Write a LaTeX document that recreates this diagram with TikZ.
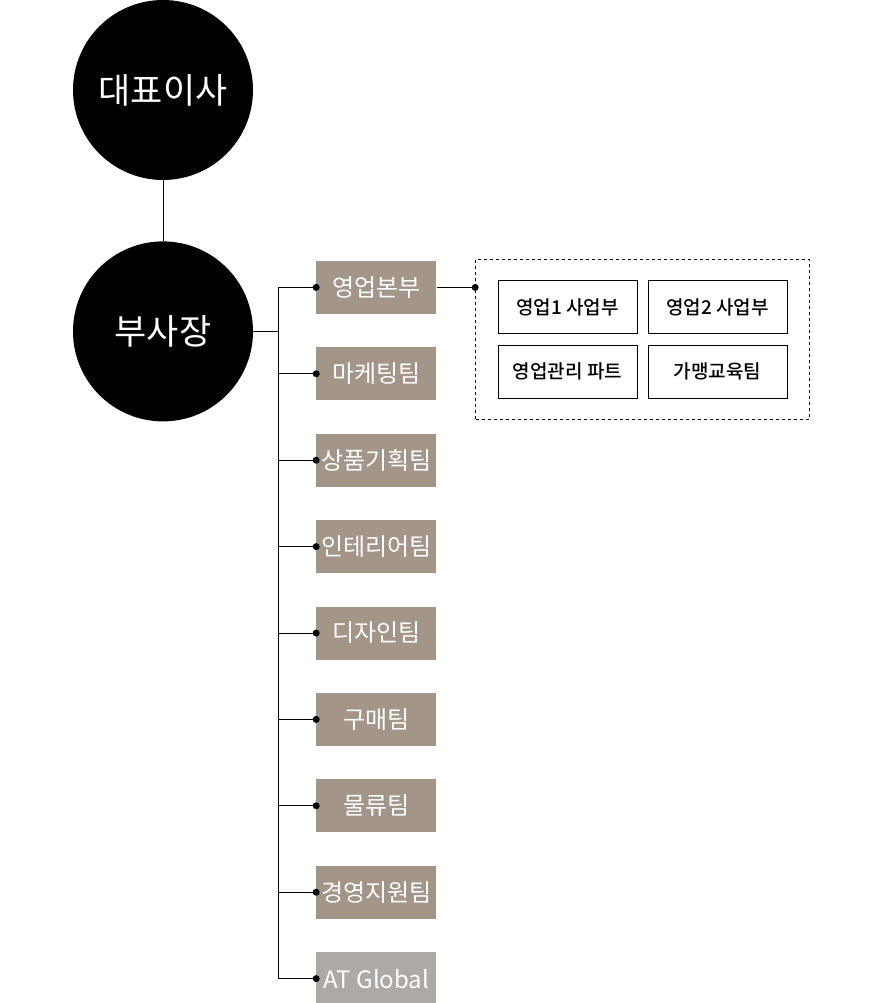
\documentclass[tikz,border=0pt]{standalone}
\usepackage{fontspec}
\newfontfamily\kr{Noto Sans CJK KR}
\newfontfamily\krmed{Noto Sans CJK KR Medium}
\usetikzlibrary{positioning, fit, calc}

\definecolor{teambrown}{HTML}{A39588}
\definecolor{teamgray}{HTML}{ADA9A6}

\begin{document}
\begin{tikzpicture}[
  font=\kr,
  head/.style={circle, fill=black, text=white, minimum size=180pt, inner sep=0pt,
               font=\kr\fontsize{35}{40}\selectfont},
  team/.style={fill=teambrown, text=white, minimum width=120pt, minimum height=53pt,
               inner sep=0pt, font=\kr\fontsize{24}{28}\selectfont},
  global/.style={team, fill=teamgray},
  unit/.style={draw=black, line width=0.9pt, fill=white, minimum width=139pt,
               minimum height=53pt, inner sep=0pt, font=\krmed\fontsize{19}{23}\selectfont},
  group/.style={draw=black, line width=0.8pt, dashed, inner sep=0pt},
  wire/.style={line width=1pt, color=black},
  dot/.style={circle, fill=black, inner sep=0pt, minimum size=7pt}
]
\useasboundingbox (0,0) rectangle (880pt,-1003pt);

\node[head] (ceo) at (163pt,-90pt) {대표이사};
\node[head, below=61pt of ceo] (vp) {부사장};

\node[team, right=63pt of vp, yshift=44pt] (sales) {영업본부};
\node[team, below=33pt of sales] (mkt) {마케팅팀};
\node[team, below=33pt of mkt] (plan) {상품기획팀};
\node[team, below=33pt of plan] (inter) {인테리어팀};
\node[team, below=33pt of inter] (design) {디자인팀};
\node[team, below=33pt of design] (buy) {구매팀};
\node[team, below=33pt of buy] (logi) {물류팀};
\node[team, below=33pt of logi] (admin) {경영지원팀};
\node[global, below=33pt of admin] (atg) {AT Global};

% sales division
\node[unit, right=61pt of sales, yshift=-19.5pt] (biz1) {영업1 사업부};
\node[unit, right=10pt of biz1] (biz2) {영업2 사업부};
\node[unit, below=11pt of biz1] (ops) {영업관리 파트};
\node[unit, below=11pt of biz2] (edu) {가맹교육팀};
\node[group, fit={(biz1) (edu)}, inner xsep=22pt, inner ysep=20.5pt] (div) {};

\draw[wire] (ceo) -- (vp);
\draw[wire] (vp.east) -- ++(25pt,0) coordinate (bus);
\draw[wire] (bus |- sales.west) -- (bus |- atg.west);
\foreach \t in {sales, mkt, plan, inter, design, buy, logi, admin, atg} {
  \draw[wire] (bus |- \t.west) -- (\t.west);
  \node[dot] at (\t.west) {};
}
\coordinate (divin) at (sales.east -| div.west);
\draw[wire] (sales.east) -- (divin);
\node[dot] at (divin) {};
\end{tikzpicture}
\end{document}
